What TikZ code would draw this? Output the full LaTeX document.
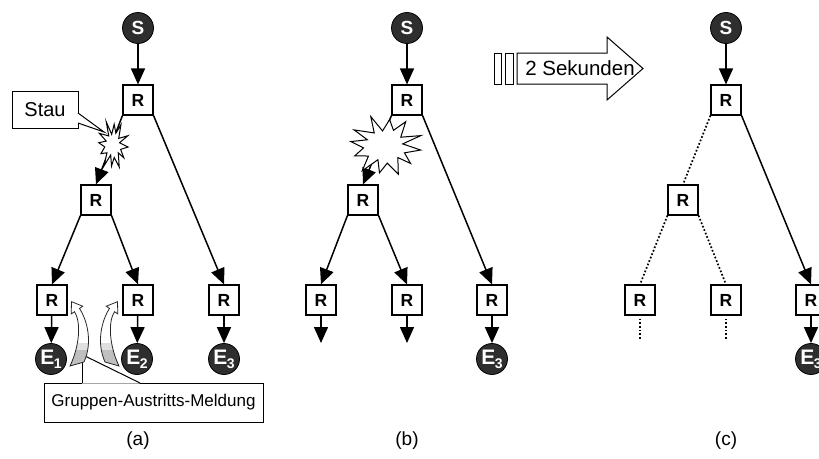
\documentclass[tikz,border=0pt]{standalone}
\usepackage{fontspec}
\setmainfont{Liberation Sans}
\usetikzlibrary{arrows.meta,calc}
\tikzset{
  rbox/.style={draw, line width=1.1pt, fill=white, minimum width=30pt, minimum height=30pt, inner sep=0pt, font=\bfseries\fontsize{17.5}{17.5}\selectfont},
  snode/.style={circle, draw=black, line width=0.8pt, fill=black!82, minimum size=31pt, inner sep=0pt, text=white, font=\bfseries\fontsize{19}{19}\selectfont},
  arr/.style={line width=1.5pt, -{Triangle[length=16pt,width=14pt]}},
  dots/.style={line width=1.7pt, dotted},
  lbl/.style={font=\fontsize{19}{19}\selectfont},
  boxtxt/.style={draw, line width=1pt, fill=white, inner sep=0pt},
  burst/.style={draw, fill=white, line width=1pt, line join=miter},
  curvyline/.style={draw=black!85, line width=0.8pt}
}
\newcommand{\Esub}[1]{\fontsize{21}{21}\selectfont E\kern-0.5pt\raisebox{-4pt}{\fontsize{14}{14}\selectfont #1}}
\newcommand{\curvyshape}{(84,362) .. controls (93,342) and (87,320) .. (79.5,308.4) -- (82.8,306.2) -- (71.5,301.7) -- (71.2,313.9) -- (74.5,311.7) .. controls (81,321.6) and (80,345) .. (70,366) -- cycle}
\newcommand{\curvyarrow}{%
  \fill[white] \curvyshape;
  \begin{scope}
    \clip \curvyshape;
    \fill[black!12] (55,343) rectangle (110,350);
    \fill[black!25] (55,350) rectangle (110,372);
  \end{scope}
  \draw[curvyline] \curvyshape;}
\begin{document}
\begin{tikzpicture}[x=1pt,y=-1pt]
\useasboundingbox (0,0) rectangle (819,458);
% ---------- panel (a)
\node[snode] (Sa) at (138,28) {S};
\node[rbox] (Ra1) at (138,100) {R};
\node[rbox] (Ra2) at (96,200) {R};
\node[rbox] (Ra3) at (52,300) {R};
\node[rbox] (Ra4) at (138,300) {R};
\node[rbox] (Ra5) at (224,300) {R};
\node[snode] (Ea1) at (51,359) {\Esub{1}};
\node[snode] (Ea2) at (137,359) {\Esub{2}};
\node[snode] (Ea3) at (224,359) {\Esub{3}};
\draw[arr] (Sa) -- (Ra1);
\draw[arr] (Ra1.south west) -- (Ra2.north);
\draw[arr] (Ra1.south east) -- (Ra5.north);
\draw[arr] (Ra2.south west) -- (Ra3.north);
\draw[arr] (Ra2.south east) -- (Ra4.north);
\draw[arr] (Ra3) -- (Ea1);
\draw[arr] (Ra4) -- (Ea2);
\draw[arr] (Ra5) -- (Ea3);
\node[boxtxt, minimum width=66pt, minimum height=37pt, font=\fontsize{20}{20}\selectfont] (stau) at (45,109.5) {Stau};
\draw[line width=1pt, fill=white] (78,113) -- (104,132) -- (78,123);
\draw[white, line width=1.6pt] (78,113.9) -- (78,122.1);
\coordinate (boomA) at (113,145);
\path[burst] plot[samples at={0,...,23}, variable=\i] ({113 + 15*(1-0.5*mod(\i,2))*(1+0.12*sin(\i*137))*cos(\i*15+5)}, {145 + 23*(1-0.5*mod(\i,2))*(1+0.12*sin(\i*97))*sin(\i*15+5)}) -- cycle;
\node[boxtxt, minimum width=219pt, minimum height=39pt, font=\fontsize{17}{17}\selectfont] (grp) at (153.5,402.5) {Gruppen-Austritts-Meldung};
\fill[white] (82,383.6) -- (82,357) -- (85,356) -- (140,383.6) -- cycle;
\draw[line width=1pt] (82,383) -- (82,357);
\draw[line width=1pt] (85,356) -- (140,383);
\curvyarrow
\begin{scope}[xshift=189pt, xscale=-1]
\curvyarrow
\end{scope}
\node[lbl] (la) at (138,441) {(a)};
% ---------- panel (b)
\node[snode] (Sb) at (407,28) {S};
\node[rbox] (Rb1) at (407,100) {R};
\node[rbox] (Rb2) at (363,200) {R};
\node[rbox] (Rb3) at (321,300) {R};
\node[rbox] (Rb4) at (407,300) {R};
\node[rbox] (Rb5) at (492,300) {R};
\node[snode] (Eb5) at (492,359) {\Esub{3}};
\coordinate (Tb3) at (321,343);
\coordinate (Tb4) at (407,343);
\draw[arr] (Sb) -- (Rb1);
\draw[arr] (Rb1.south west) -- (Rb2.north);
\draw[arr] (Rb1.south east) -- (Rb5.north);
\draw[arr] (Rb2.south west) -- (Rb3.north);
\draw[arr] (Rb2.south east) -- (Rb4.north);
\draw[arr] (Rb3) -- (Tb3);
\draw[arr] (Rb4) -- (Tb4);
\draw[arr] (Rb5) -- (Eb5);
\coordinate (boomB) at (385,146);
\path[burst] plot[samples at={0,...,23}, variable=\i] ({385 + 36*(1-0.45*mod(\i,2))*(1+0.1*sin(\i*137))*cos(\i*15+8)}, {146 + 29*(1-0.45*mod(\i,2))*(1+0.1*sin(\i*97))*sin(\i*15+8)}) -- cycle;
\node[lbl] (lb) at (407,441) {(b)};
% ---------- arrow "2 Sekunden"
\draw[line width=1pt] (494,53) rectangle (501,84);
\draw[line width=1pt] (505,53) rectangle (513,84);
\draw[line width=1pt, fill=white] (517,53) -- (607,53) -- (607,37) -- (643,68.5) -- (607,100) -- (607,84) -- (517,84) -- cycle;
\node[font=\fontsize{20.5}{20.5}\selectfont] (sek) at (580,68) {2 Sekunden};
% ---------- panel (c)
\node[snode] (Sc) at (726,28) {S};
\node[rbox] (Rc1) at (726,100) {R};
\node[rbox] (Rc2) at (683,200) {R};
\node[rbox] (Rc3) at (640,300) {R};
\node[rbox] (Rc4) at (726,300) {R};
\node[rbox] (Rc5) at (811,300) {R};
\node[snode] (Ec5) at (811,359) {\Esub{3}};
\coordinate (Tc3) at (640,340);
\coordinate (Tc4) at (726,340);
\draw[arr] (Sc) -- (Rc1);
\draw[dots] (Rc1.south west) -- (Rc2.north);
\draw[arr] (Rc1.south east) -- (Rc5.north);
\draw[dots] (Rc2.south west) -- (Rc3.north);
\draw[dots] (Rc2.south east) -- (Rc4.north);
\draw[dots] ([yshift=-3pt]Rc3.south) -- (Tc3);
\draw[dots] ([yshift=-3pt]Rc4.south) -- (Tc4);
\draw[arr] (Rc5) -- (Ec5);
\node[lbl] (lc) at (726,441) {(c)};
\end{tikzpicture}
\end{document}
